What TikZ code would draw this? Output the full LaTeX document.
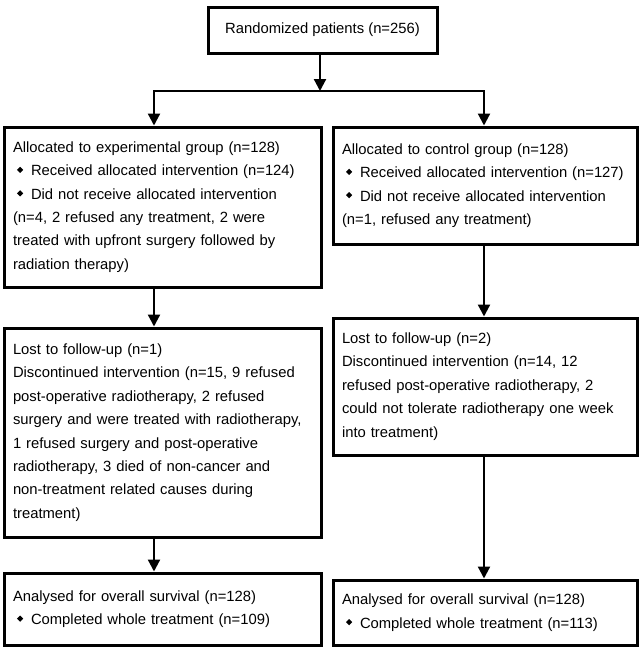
\documentclass[tikz,border=0pt]{standalone}
\usepackage{fontspec}
\setmainfont{Liberation Sans}
\usepackage{graphicx}
\usetikzlibrary{arrows.meta}
\usetikzlibrary{positioning}

\newcommand{\itm}{\hspace*{4pt}\makebox[14pt][l]{\raisebox{0.35ex}{\rotatebox{45}{\rule{4.4pt}{4.4pt}}}}}

\begin{document}
\begin{tikzpicture}[
  x=1pt, y=1pt,
  box/.style={draw, line width=3pt, inner xsep=9pt, align=left,
    font=\fontsize{14.8}{23.4}\selectfont},
  expbox/.style={box, text width=299pt},
  ctlbox/.style={box, text width=286pt},
  arr/.style={line width=2.2pt, -{Triangle[width=12pt,length=12pt]}}
]

\useasboundingbox (0,0) rectangle (640,-648);

\node (rand) [draw, line width=3pt, minimum width=229pt, minimum height=46pt,
  font=\fontsize{14.8}{23.4}\selectfont] at (322.5,-30) {Randomized patients (n=256)};

% first row
\node (exp1) [expbox, minimum height=160pt] at (162.5,-207) {
  Allocated to experimental group (n=128)\\
  \itm Received allocated intervention (n=124)\\
  \itm Did not receive allocated intervention\\
  (n=4, 2 refused any treatment, 2 were\\
  treated with upfront surgery followed by\\
  radiation therapy)
};

\node (ctl1) [ctlbox, minimum height=117pt] at (485,-185.5) {
  Allocated to control group (n=128)\\
  \itm Received allocated intervention (n=127)\\
  \itm Did not receive allocated intervention\\
  (n=1, refused any treatment)
};

% second row
\node (exp2) [expbox, minimum height=209pt] at (162.5,-432.5) {
  Lost to follow-up (n=1)\\
  Discontinued intervention (n=15, 9 refused\\
  post-operative radiotherapy, 2 refused\\
  surgery and were treated with radiotherapy,\\
  1 refused surgery and post-operative\\
  radiotherapy, 3 died of non-cancer and\\
  non-treatment related causes during\\
  treatment)
};

\node (ctl2) [ctlbox, minimum height=137pt] at (485,-386.5) {
  Lost to follow-up (n=2)\\
  Discontinued intervention (n=14, 12\\
  refused post-operative radiotherapy, 2\\
  could not tolerate radiotherapy one week\\
  into treatment)
};

% third row
\node (exp3) [expbox, minimum height=72pt] at (162.5,-609) {
  Analysed for overall survival (n=128)\\
  \itm Completed whole treatment (n=109)
};

\node (ctl3) [ctlbox, minimum height=65pt] at (485,-612.5) {
  Analysed for overall survival (n=128)\\
  \itm Completed whole treatment (n=113)
};

% connectors
\coordinate (split) at (320,-91);
\coordinate (lx) at (154,0);
\coordinate (rx) at (484,0);

\draw[arr] (rand.south -| split) -- (split);
\draw[arr] (split) -| (exp1.north -| lx);
\draw[arr] (split) -| (ctl1.north -| rx);
\draw[arr] (exp1.south -| lx) -- (exp2.north -| lx);
\draw[arr] (ctl1.south -| rx) -- (ctl2.north -| rx);
\draw[arr] (exp2.south -| lx) -- (exp3.north -| lx);
\draw[arr] (ctl2.south -| rx) -- (ctl3.north -| rx);

\end{tikzpicture}
\end{document}
